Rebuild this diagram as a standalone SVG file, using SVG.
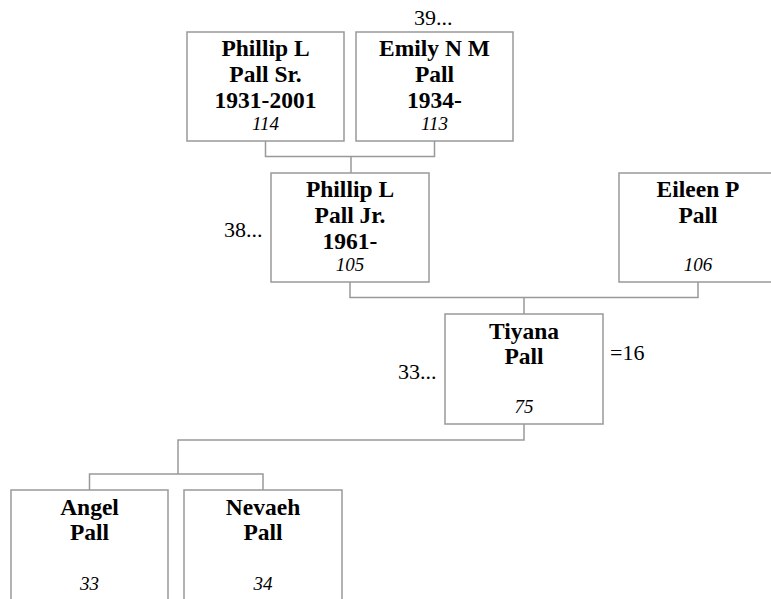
<svg xmlns="http://www.w3.org/2000/svg" width="771" height="599" viewBox="0 0 771 599">
<style>
.box{fill:#fff;stroke:#999;stroke-width:1.5}
.con{fill:none;stroke:#999;stroke-width:1.5}
text{font-family:'Liberation Serif','DejaVu Serif',serif;fill:#000}
.nm{font-weight:bold;font-size:23.5px;text-anchor:middle}
.id{font-style:italic;font-size:19px;text-anchor:middle}
.lb{font-size:22px}
</style>
<rect width="771" height="599" fill="#fff"/>
<g id="connectors">
<path class="con" d="M265.5,141 V156.5 H434.5 V141 M351,156.5 V173"/>
<path class="con" d="M350,282 V297.5 H698 V282 M524,297.5 V314"/>
<path class="con" d="M524,424 V440 H178 V474 M89.5,490 V474 H263 V490"/>
</g>
<g id="n114">
<rect class="box" x="187" y="32" width="157" height="109"/>
<text class="nm" x="265.5" y="56">Phillip L</text>
<text class="nm" x="265.5" y="82">Pall Sr.</text>
<text class="nm" x="265.5" y="108">1931-2001</text>
<text class="id" x="265.5" y="130">114</text>
</g>
<g id="n113">
<rect class="box" x="356" y="32" width="157" height="109"/>
<text class="nm" x="434.5" y="56">Emily N M</text>
<text class="nm" x="434.5" y="82">Pall</text>
<text class="nm" x="434.5" y="108">1934-</text>
<text class="id" x="434.5" y="130">113</text>
<text class="lb" x="414" y="25">39...</text>
</g>
<g id="n105">
<rect class="box" x="271" y="173" width="158" height="109"/>
<text class="nm" x="350" y="197">Phillip L</text>
<text class="nm" x="350" y="223">Pall Jr.</text>
<text class="nm" x="350" y="249">1961-</text>
<text class="id" x="350" y="271">105</text>
<text class="lb" x="224" y="237">38...</text>
</g>
<g id="n106">
<rect class="box" x="619" y="173" width="158" height="109"/>
<text class="nm" x="698" y="197">Eileen P</text>
<text class="nm" x="698" y="223">Pall</text>
<text class="id" x="698" y="271">106</text>
</g>
<g id="n75">
<rect class="box" x="445" y="314" width="158" height="110"/>
<text class="nm" x="524" y="339">Tiyana</text>
<text class="nm" x="524" y="364">Pall</text>
<text class="id" x="524" y="413">75</text>
<text class="lb" x="398" y="379">33...</text>
<text class="lb" x="610" y="360">=16</text>
</g>
<g id="n33">
<rect class="box" x="11" y="490" width="157" height="120"/>
<text class="nm" x="89.5" y="515">Angel</text>
<text class="nm" x="89.5" y="540">Pall</text>
<text class="id" x="89.5" y="590">33</text>
</g>
<g id="n34">
<rect class="box" x="184" y="490" width="158" height="120"/>
<text class="nm" x="263" y="515">Nevaeh</text>
<text class="nm" x="263" y="540">Pall</text>
<text class="id" x="263" y="590">34</text>
</g>
</svg>
